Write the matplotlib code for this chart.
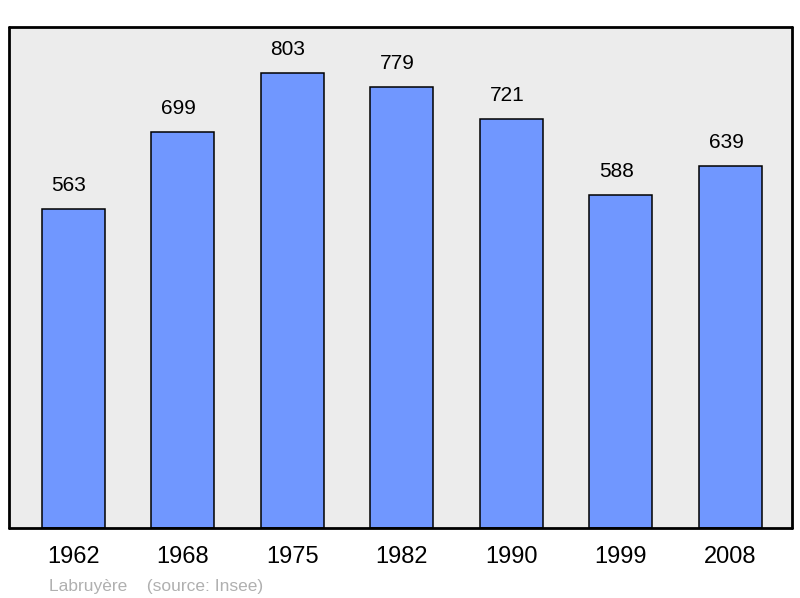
import matplotlib.pyplot as plt

plt.rcParams['font.family'] = ['Liberation Sans', 'DejaVu Sans']

years = ['1962', '1968', '1975', '1982', '1990', '1999', '2008']
population = [563, 699, 803, 779, 721, 588, 639]

fig = plt.figure(figsize=(8, 5.98), dpi=100)
ax = fig.add_axes([9 / 800, 70 / 598, 783 / 800, 501 / 598])
ax.set_facecolor('#ececec')

x = range(len(years))
ax.bar(x, population, width=0.575, color='#7097ff', edgecolor='black', linewidth=1.1, zorder=2)

# value labels above each bar
for i, v in zip(x, population):
    ax.annotate(str(v), (i, v), xytext=(-3, 10), textcoords='offset points',
                ha='center', va='bottom', fontsize=15, color='black')

ax.set_xlim(-0.585, 6.565)
ax.set_ylim(0, 884)
ax.set_xticks(list(x))
ax.set_xticklabels(years, fontsize=17)
ax.tick_params(axis='x', length=0, pad=13)
ax.set_yticks([])

for s in ax.spines.values():
    s.set_linewidth(2)
    s.set_capstyle('round')
    s.set_joinstyle('round')

fig.text(49 / 800, 1 - 591 / 598, 'Labruyère    (source: Insee)', fontsize=12.5,
         color='#b0b0b0', ha='left', va='baseline')

fig.savefig('out.png', dpi=100)
